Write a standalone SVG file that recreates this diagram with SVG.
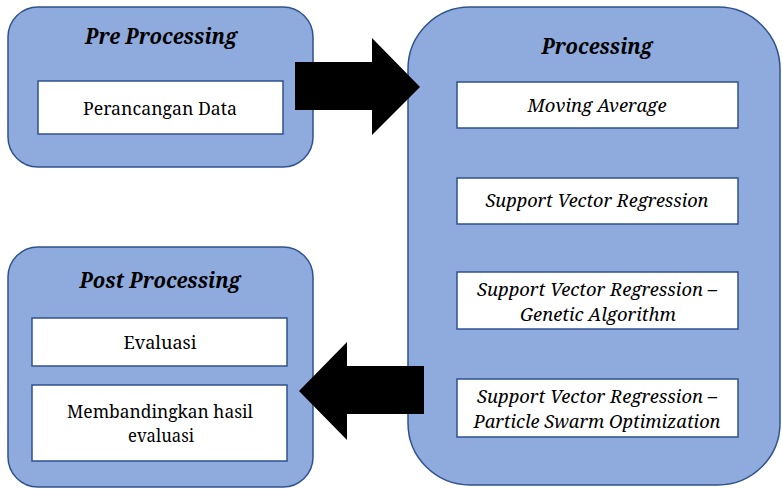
<svg xmlns="http://www.w3.org/2000/svg" width="782" height="489" viewBox="0 0 782 489">
<style>
.grp{fill:#8faadc;stroke:#2f528f;stroke-width:1.5}
.box{fill:#ffffff;stroke:#2f528f;stroke-width:1.5}
text{font-family:'Noto Serif','DejaVu Serif',serif;fill:#000;text-anchor:middle}
.title{font-size:21px;font-weight:bold;font-style:italic}
.t{font-size:18px}
.ti{font-size:18px;font-style:italic}
.arrow{fill:#000}
</style>
<rect width="782" height="489" fill="#ffffff"/>
<g id="pre">
<rect class="grp" x="8" y="7" width="305" height="160" rx="30"/>
<text class="title" x="161" y="44" textLength="152" lengthAdjust="spacingAndGlyphs">Pre Processing</text>
<rect class="box" x="38" y="81" width="245" height="53"/>
<text class="t" x="160" y="115" textLength="154" lengthAdjust="spacingAndGlyphs">Perancangan Data</text>
</g>
<g id="processing">
<rect class="grp" x="408" y="7" width="372" height="478" rx="62"/>
<text class="title" x="597" y="54" textLength="111" lengthAdjust="spacingAndGlyphs">Processing</text>
<rect class="box" x="457" y="82" width="281" height="46"/>
<text class="ti" x="597" y="112" textLength="139" lengthAdjust="spacingAndGlyphs">Moving Average</text>
<rect class="box" x="457" y="178" width="281" height="46"/>
<text class="ti" x="597" y="207" textLength="223" lengthAdjust="spacingAndGlyphs">Support Vector Regression</text>
<rect class="box" x="457" y="272" width="281" height="57"/>
<text class="ti" x="597" y="296" textLength="240" lengthAdjust="spacingAndGlyphs">Support Vector Regression –</text>
<text class="ti" x="598" y="321" textLength="156" lengthAdjust="spacingAndGlyphs">Genetic Algorithm</text>
<rect class="box" x="457" y="379" width="281" height="58"/>
<text class="ti" x="597" y="403" textLength="240" lengthAdjust="spacingAndGlyphs">Support Vector Regression –</text>
<text class="ti" x="597" y="428" textLength="247" lengthAdjust="spacingAndGlyphs">Particle Swarm Optimization</text>
</g>
<g id="post">
<rect class="grp" x="8" y="247" width="305" height="240" rx="30"/>
<text class="title" x="160" y="288" textLength="161" lengthAdjust="spacingAndGlyphs">Post Processing</text>
<rect class="box" x="32" y="318" width="255" height="48"/>
<text class="t" x="160" y="349" textLength="73" lengthAdjust="spacingAndGlyphs">Evaluasi</text>
<rect class="box" x="32" y="385" width="255" height="76"/>
<text class="t" x="160" y="418" textLength="186" lengthAdjust="spacingAndGlyphs">Membandingkan hasil</text>
<text class="t" x="161" y="442" textLength="66" lengthAdjust="spacingAndGlyphs">evaluasi</text>
</g>
<g id="connectors">
<polygon class="arrow" points="295,62 372,62 372,38 420,87 372,135 372,110 295,110"/>
<polygon class="arrow" points="424,366 347,366 347,342 299,391 347,440 347,414 424,414"/>
</g>
</svg>
